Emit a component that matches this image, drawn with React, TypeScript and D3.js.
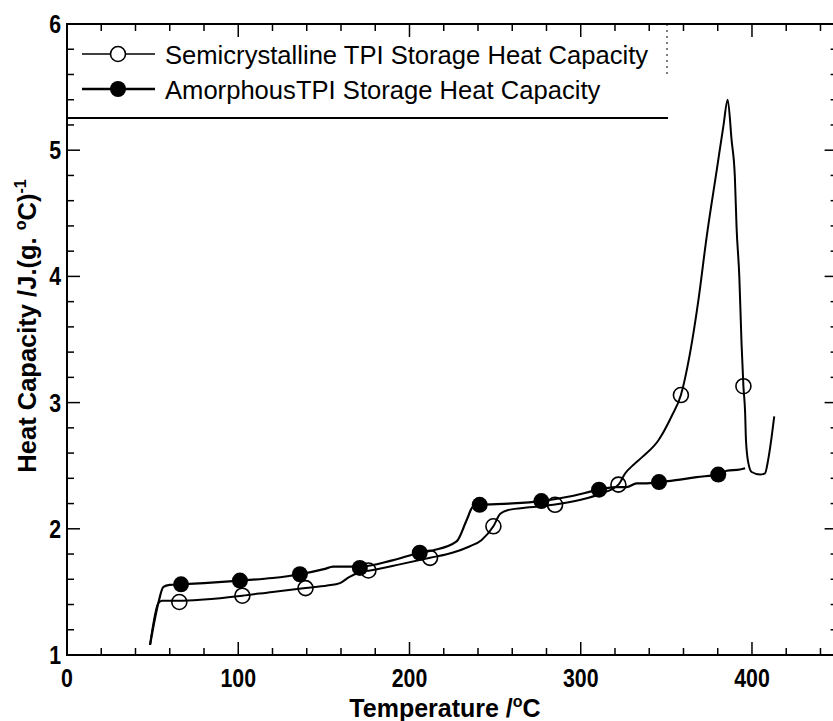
import React from 'react';
import * as d3 from 'd3';

// Semicrystalline TPI curve (temperature °C, heat capacity J/(g·°C))
const semiT = [48.5, 53.3, 55.5, 60, 65.6, 80, 102.4, 120, 139.3, 152, 159.4, 165, 172, 177, 195, 212, 225, 235, 242, 249, 253, 258, 270, 284, 300, 312, 322, 326, 331, 336, 345.3, 353, 358.5, 363.8, 368.7, 373.5, 379.4, 383.3, 385.8, 388.1, 390, 391, 392.6, 393.9, 395, 396, 396.5, 397.9, 399.8, 404.7, 407.6, 409.5, 411.5, 413];
const semiCp = [1.08, 1.41, 1.43, 1.43, 1.43, 1.44, 1.47, 1.50, 1.53, 1.55, 1.57, 1.62, 1.66, 1.67, 1.72, 1.77, 1.81, 1.86, 1.91, 2.02, 2.12, 2.15, 2.17, 2.19, 2.23, 2.28, 2.35, 2.44, 2.51, 2.57, 2.70, 2.89, 3.06, 3.39, 3.81, 4.31, 4.84, 5.19, 5.40, 5.08, 4.79, 4.39, 4.00, 3.47, 3.13, 2.92, 2.70, 2.52, 2.45, 2.43, 2.44, 2.55, 2.73, 2.89];

// Amorphous TPI curve
const amT = [48.5, 53.3, 56.3, 60, 66.6, 80, 101, 120, 136, 150, 155.5, 171, 190, 206, 214, 227.5, 233.4, 237, 241, 258, 277, 295, 310.7, 320, 326.8, 332.6, 338.5, 345.7, 358, 367.7, 380.3, 385.3, 393, 396];
const amCp = [1.08, 1.41, 1.54, 1.555, 1.56, 1.57, 1.59, 1.61, 1.64, 1.68, 1.70, 1.70, 1.75, 1.81, 1.83, 1.90, 2.07, 2.175, 2.19, 2.20, 2.22, 2.26, 2.31, 2.33, 2.33, 2.36, 2.36, 2.37, 2.39, 2.41, 2.43, 2.46, 2.47, 2.48];

// Marker positions
const semiMarkT = [65.6, 102.4, 139.3, 176, 212, 249, 285, 322, 358.5, 395];
const semiMarkCp = [1.42, 1.47, 1.53, 1.67, 1.77, 2.02, 2.19, 2.35, 3.06, 3.13];
const amMarkT = [66.6, 101, 136, 171, 206, 241, 277, 310.7, 345.7, 380.3];
const amMarkCp = [1.56, 1.59, 1.64, 1.69, 1.81, 2.19, 2.22, 2.31, 2.37, 2.43];

const xTicks = [0, 100, 200, 300, 400];
const yTicks = [1, 2, 3, 4, 5, 6];
const legendLabels = ['Semicrystalline TPI Storage Heat Capacity', 'AmorphousTPI Storage Heat Capacity'];

const FONT = '"Liberation Sans", Arial, Helvetica, sans-serif';

export default function App() {
  const W = 833, H = 721;
  const x = d3.scaleLinear().domain([0, 450]).range([67, 837.6]);
  const y = d3.scaleLinear().domain([1, 6]).range([655, 24]);
  const line = d3.line<[number, number]>()
    .x(d => x(d[0]))
    .y(d => y(d[1]))
    .curve(d3.curveMonotoneX);

  const semiData: [number, number][] = semiT.map((t, i) => [t, semiCp[i]]);
  const amData: [number, number][] = amT.map((t, i) => [t, amCp[i]]);

  const xMinor = d3.range(0, 451, 20).filter(v => v % 100 !== 0);
  const yMinor = d3.range(1, 6.001, 0.2).filter(v => Math.abs(v - Math.round(v)) > 0.01);

  const x0 = x(0), x1 = x(450), yTop = y(6), yBot = y(1);
  const MAJ = 13, MIN = 7;

  return (
    <svg width={W} height={H} style={{ position: 'absolute', left: 0, top: 0, background: '#fff' }} fontFamily={FONT}>
      <rect x={0} y={0} width={W} height={H} fill="#fff" />
      {/* frame */}
      <rect x={x0} y={yTop} width={x1 - x0} height={yBot - yTop} fill="none" stroke="#000" strokeWidth={2} />
      {/* major ticks */}
      {xTicks.map(v => (
        <g key={'xt' + v}>
          <line x1={x(v)} x2={x(v)} y1={yBot} y2={yBot - MAJ} stroke="#000" strokeWidth={1.5} />
          <line x1={x(v)} x2={x(v)} y1={yTop} y2={yTop + MAJ} stroke="#000" strokeWidth={1.5} />
        </g>
      ))}
      {xMinor.map(v => (
        <g key={'xm' + v}>
          <line x1={x(v)} x2={x(v)} y1={yBot} y2={yBot - MIN} stroke="#000" strokeWidth={1.5} />
          <line x1={x(v)} x2={x(v)} y1={yTop} y2={yTop + MIN} stroke="#000" strokeWidth={1.5} />
        </g>
      ))}
      {yTicks.map(v => (
        <g key={'yt' + v}>
          <line x1={x0} x2={x0 + MAJ} y1={y(v)} y2={y(v)} stroke="#000" strokeWidth={1.5} />
          <line x1={x1} x2={x1 - MAJ} y1={y(v)} y2={y(v)} stroke="#000" strokeWidth={1.5} />
        </g>
      ))}
      {yMinor.map(v => (
        <g key={'ym' + v.toFixed(1)}>
          <line x1={x0} x2={x0 + MIN} y1={y(v)} y2={y(v)} stroke="#000" strokeWidth={1.5} />
          <line x1={x1} x2={x1 - MIN} y1={y(v)} y2={y(v)} stroke="#000" strokeWidth={1.5} />
        </g>
      ))}
      {/* tick labels */}
      {xTicks.map(v => (
        <text key={'xl' + v} x={x(v)} y={687} textAnchor="middle" fontSize={26} fontWeight="bold"
          transform={`translate(${x(v)},0) scale(0.82,1) translate(${-x(v)},0)`}>{v}</text>
      ))}
      {yTicks.map(v => (
        <text key={'yl' + v} x={61} y={y(v) + 9} textAnchor="end" fontSize={26} fontWeight="bold"
          transform={`translate(61,0) scale(0.82,1) translate(-61,0)`}>{v}</text>
      ))}
      {/* axis titles */}
      <text x={445} y={717} textAnchor="middle" fontSize={25} fontWeight="bold">
        Temperature /<tspan fontSize={16} dy={-10}>o</tspan><tspan dy={10}>C</tspan>
      </text>
      <text transform="translate(36,326) rotate(-90)" textAnchor="middle" fontSize={25.5} fontWeight="bold">
        Heat Capacity /J.(g. <tspan fontSize={16} dy={-10}>o</tspan><tspan dy={10}>C)</tspan><tspan fontSize={16} dy={-10}>-1</tspan>
      </text>
      {/* legend box */}
      <line x1={x0} x2={668} y1={118} y2={118} stroke="#000" strokeWidth={2} />
      <line x1={667} x2={667} y1={yTop} y2={78} stroke="#000" strokeWidth={1} strokeDasharray="2,4" />
      <line x1={82} x2={155} y1={54} y2={54} stroke="#000" strokeWidth={1.6} />
      <circle cx={118} cy={54} r={7.5} fill="#fff" stroke="#000" strokeWidth={1.6} />
      <text x={165} y={63.5} fontSize={25.6}>{legendLabels[0]}</text>
      <line x1={82} x2={155} y1={89} y2={89} stroke="#000" strokeWidth={2.6} />
      <circle cx={118} cy={89} r={8} fill="#000" />
      <text x={165} y={98.5} fontSize={25.6}>{legendLabels[1]}</text>
      {/* curves */}
      <path d={line(semiData) || ''} fill="none" stroke="#000" strokeWidth={2} />
      <path d={line(amData) || ''} fill="none" stroke="#000" strokeWidth={2.2} />
      {semiMarkT.map((t, i) => (
        <circle key={'sm' + i} cx={x(t)} cy={y(semiMarkCp[i])} r={7.5} fill="none" stroke="#000" strokeWidth={1.6} />
      ))}
      {amMarkT.map((t, i) => (
        <circle key={'am' + i} cx={x(t)} cy={y(amMarkCp[i])} r={8} fill="#000" />
      ))}
    </svg>
  );
}
